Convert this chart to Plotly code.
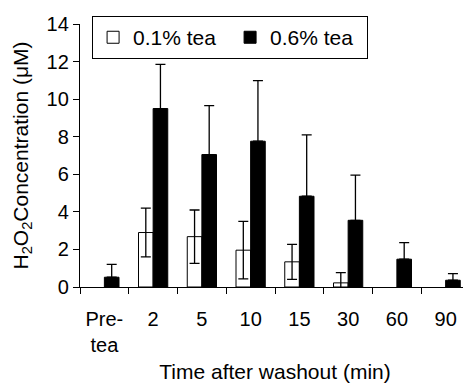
import plotly.graph_objects as go

categories = ["Pre-<br>tea", "2", "5", "10", "15", "30", "60", "90"]
low_tea = [None, 2.9, 2.68, 1.96, 1.34, 0.22, None, None]
low_tea_sd = [0, 1.3, 1.42, 1.53, 0.93, 0.55, 0, 0]
high_tea = [0.52, 9.5, 7.05, 7.76, 4.83, 3.55, 1.48, 0.36]
high_tea_sd = [0.68, 2.35, 2.6, 3.23, 3.27, 2.41, 0.88, 0.35]

FONT = "Liberation Sans, Arial, sans-serif"

fig = go.Figure()
fig.add_trace(go.Bar(
    name="0.1% tea", x=categories, y=low_tea,
    marker=dict(color="white", line=dict(color="black", width=1)),
    error_y=dict(type="data", array=low_tea_sd, symmetric=True,
                 color="black", thickness=1.3, width=5),
))
fig.add_trace(go.Bar(
    name="0.6% tea", x=categories, y=high_tea,
    marker=dict(color="black", line=dict(color="black", width=1)),
    error_y=dict(type="data", array=high_tea_sd, arrayminus=[0]*len(high_tea),
                 symmetric=False, color="black", thickness=1.3, width=5),
))

# page body has an 8px margin, so the figure is sized/offset to compensate
fig.update_layout(
    width=463, height=376,
    margin=dict(l=72, r=1, t=16, b=97),
    paper_bgcolor="white", plot_bgcolor="white",
    barmode="group", bargap=0.4, bargroupgap=0,
    font=dict(family=FONT, size=20, color="black"),
    legend=dict(
        orientation="h", x=0.031, y=1.03, xanchor="left", yanchor="top",
        bordercolor="black", borderwidth=1, bgcolor="white",
        font=dict(size=21), entrywidth=92, entrywidthmode="pixels",
        itemwidth=30,
    ),
    xaxis=dict(
        automargin=False,
        tickson="boundaries", ticks="outside", ticklen=6, tickwidth=1.3,
        tickcolor="black", showline=True, linecolor="black", linewidth=1.3,
        showgrid=False, zeroline=False, ticklabelstandoff=14,
        title=dict(text="Time after washout (min)", standoff=9, font=dict(size=21)),
        tickfont=dict(size=20),
    ),
    yaxis=dict(
        automargin=False,
        range=[0, 14], tickvals=[0, 2, 4, 6, 8, 10, 12, 14],
        ticks="outside", ticklen=6, tickwidth=1.3, tickcolor="black",
        showline=True, linecolor="black", linewidth=1.3,
        showgrid=False, zeroline=False,
        title=dict(text="H<sub>2</sub>O<sub>2</sub>Concentration (μM)", standoff=12,
                   font=dict(size=21)),
        tickfont=dict(size=20),
    ),
)

fig.write_html("out.html")
